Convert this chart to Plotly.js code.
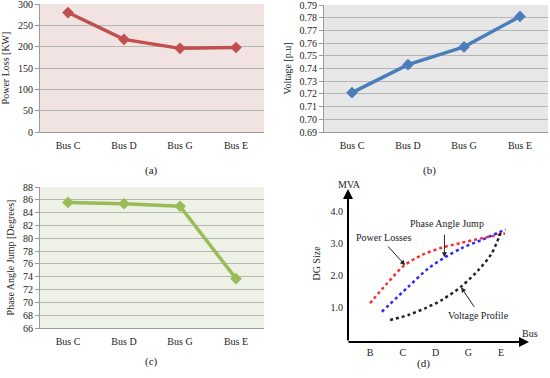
<!DOCTYPE html>
<html><head><meta charset="utf-8">
<script src="https://cdn.plot.ly/plotly-3.0.1.min.js"></script>
<style>html,body{margin:0;padding:0;background:#fff}#chart{width:550px;height:378px}</style>
</head><body><div id="chart"></div>
<script>
// ---- data ----
const buses = ['Bus C', 'Bus D', 'Bus G', 'Bus E'];
const powerLoss = [280, 217, 196, 198];
const voltage = [0.721, 0.743, 0.757, 0.781];
const phaseAngle = [85.6, 85.4, 85.0, 73.7];

// panel (d) schematic
const dBusLabels = ['B', 'C', 'D', 'G', 'E'];
const dBusPos = [1, 2, 3, 4, 5];
const dSizeTicks = [1, 2, 3, 4];
const dSizeLabels = ['1.0', '2.0', '3.0', '4.0'];
const lossX = [1.0, 1.5, 2.02, 2.58, 3.19, 3.80, 4.41, 5.12];
const lossY = [1.12, 1.72, 2.29, 2.64, 2.87, 3.03, 3.17, 3.32];
const angleX = [1.36, 2.17, 2.78, 3.29, 3.80, 4.41, 5.14];
const angleY = [0.85, 1.64, 2.22, 2.57, 2.86, 3.12, 3.45];
const voltX = [1.61, 2.17, 2.68, 3.19, 3.80, 4.31, 4.71, 5.02];
const voltY = [0.59, 0.75, 0.96, 1.22, 1.66, 2.17, 2.69, 3.43];

const F = 'Liberation Serif, Times New Roman, serif';
const W = 550, H = 378;
const px = v => v / W, py = v => 1 - v / H;

function lineTrace(y, color, xa, ya) {
  return {x: buses, y: y, type: 'scatter', mode: 'lines+markers', xaxis: xa, yaxis: ya,
    line: {color: color, width: 3.5}, marker: {symbol: 'diamond', size: 9, color: color},
    showlegend: false, hoverinfo: 'skip'};
}
function dotTrace(x, y, color) {
  return {x: x, y: y, type: 'scatter', mode: 'lines', xaxis: 'x4', yaxis: 'y4',
    line: {color: color, width: 2.5, dash: 'dot', shape: 'spline', smoothing: 0.8}, showlegend: false, hoverinfo: 'skip'};
}

const data = [
  lineTrace(powerLoss, '#c0504d', 'x', 'y'),
  lineTrace(voltage, '#4a7ebb', 'x2', 'y2'),
  lineTrace(phaseAngle, '#9bbb59', 'x3', 'y3'),
  dotTrace(lossX, lossY, '#ff2a2a'),
  dotTrace(angleX, angleY, '#2a2aff'),
  dotTrace(voltX, voltY, '#222222'),
];

const tickFont = {family: F, size: 10, color: '#222'};
function catX(dom, anchor) {
  return {domain: dom, anchor: anchor, type: 'category', range: [-0.5, 3.5], showgrid: false,
    showline: true, linecolor: '#9a9a9a', linewidth: 1, ticks: '', tickfont: tickFont,
    ticklabelstandoff: 4, zeroline: false, fixedrange: true};
}
function valY(dom, anchor, range, dtick, fmt, title) {
  return {domain: dom, anchor: anchor, range: range, dtick: dtick, tickformat: fmt,
    showgrid: true, gridcolor: '#b5b5b5', gridwidth: 1, showline: true, linecolor: '#9a9a9a',
    ticks: 'outside', ticklen: 4, tickcolor: '#9a9a9a', tickfont: tickFont, zeroline: false,
    ticklabeloverflow: 'allow',
    title: {text: title, font: {family: F, size: 10, color: '#222'}, standoff: 6}, fixedrange: true};
}

const layout = {
  width: W, height: H, margin: {l: 0, r: 0, t: 0, b: 0},
  paper_bgcolor: '#fff', plot_bgcolor: 'rgba(0,0,0,0)', showlegend: false,
  font: {family: F},
  xaxis: catX([px(40), px(264)], 'y'),
  yaxis: valY([py(132), py(4)], 'x', [0, 300], 50, 'd', 'Power Loss [KW]'),
  xaxis2: catX([px(324), px(548)], 'y2'),
  yaxis2: valY([py(132), py(5)], 'x2', [0.69, 0.79], 0.01, '.2f', 'Voltage [p.u]'),
  xaxis3: catX([px(40), px(264)], 'y3'),
  yaxis3: valY([py(328), py(187)], 'x3', [66, 88], 2, 'd', 'Phase Angle Jump [Degrees]'),
  xaxis4: {domain: [px(348), px(528)], anchor: 'y4', range: [0.328, 5.82], showgrid: false,
    showline: false, zeroline: false, ticks: '', tickvals: dBusPos, ticktext: dBusLabels,
    tickfont: tickFont, ticklabelstandoff: 3, fixedrange: true},
  yaxis4: {domain: [py(342), py(185)], anchor: 'x4', range: [-0.104, 4.85], showgrid: false,
    showline: false, zeroline: false, ticks: '', tickvals: dSizeTicks, ticktext: dSizeLabels,
    tickfont: tickFont, ticklabelstandoff: 4, fixedrange: true,
    title: {text: 'DG Size', font: {family: F, size: 10, color: '#222'}, standoff: 8}},
  shapes: [
    {type: 'rect', xref: 'x domain', yref: 'y domain', x0: 0, x1: 1, y0: 0, y1: 1, fillcolor: '#f2e3e3', line: {width: 0}, layer: 'below'},
    {type: 'rect', xref: 'x2 domain', yref: 'y2 domain', x0: 0, x1: 1, y0: 0, y1: 1, fillcolor: '#e7e7e7', line: {width: 0}, layer: 'below'},
    {type: 'rect', xref: 'x3 domain', yref: 'y3 domain', x0: 0, x1: 1, y0: 0, y1: 1, fillcolor: '#eef1e5', line: {width: 0}, layer: 'below'},
  ],
  annotations: [
    {text: '(a)', xref: 'paper', yref: 'paper', x: px(143), y: py(171), showarrow: false, font: {family: F, size: 11, color: '#222'}},
    {text: '(b)', xref: 'paper', yref: 'paper', x: px(438), y: py(171), showarrow: false, font: {family: F, size: 11, color: '#222'}},
    {text: '(c)', xref: 'paper', yref: 'paper', x: px(143), y: py(370), showarrow: false, font: {family: F, size: 11, color: '#222'}},
    {text: '(d)', xref: 'paper', yref: 'paper', x: px(432), y: py(372), showarrow: false, font: {family: F, size: 11, color: '#222'}},
    // axis arrows of (d)
    {text: '', xref: 'paper', yref: 'paper', x: px(348), y: py(189), ax: 0, ay: 153, showarrow: true, arrowhead: 2, arrowsize: 1, arrowwidth: 2, arrowcolor: '#000'},
    {text: '', xref: 'paper', yref: 'paper', x: px(529), y: py(342), ax: -182, ay: 0, showarrow: true, arrowhead: 2, arrowsize: 1, arrowwidth: 2, arrowcolor: '#000'},
    {text: 'MVA', xref: 'paper', yref: 'paper', x: px(349), y: py(184), showarrow: false, font: {family: F, size: 10, color: '#222'}},
    {text: 'Bus', xref: 'paper', yref: 'paper', x: px(540), y: py(341), showarrow: false, font: {family: F, size: 10, color: '#222'}},
    // curve labels
    {text: 'Power Losses', xref: 'x4', yref: 'y4', x: 1.40, y: 3.2, showarrow: false, font: {family: F, size: 10, color: '#222'}},
    {text: '', xref: 'x4', yref: 'y4', axref: 'x4', ayref: 'y4', x: 2.07, y: 2.32, ax: 1.51, ay: 2.96, showarrow: true, arrowhead: 2, arrowsize: 1, arrowwidth: 1, arrowcolor: '#222'},
    {text: 'Phase Angle Jump', xref: 'x4', yref: 'y4', x: 3.35, y: 3.64, showarrow: false, font: {family: F, size: 10, color: '#222'}},
    {text: '', xref: 'x4', yref: 'y4', axref: 'x4', ayref: 'y4', x: 3.27, y: 2.57, ax: 3.27, ay: 3.33, showarrow: true, arrowhead: 2, arrowsize: 1, arrowwidth: 1, arrowcolor: '#222'},
    {text: 'Voltage Profile', xref: 'x4', yref: 'y4', x: 4.31, y: 0.73, showarrow: false, font: {family: F, size: 10, color: '#222'}},
    {text: '', xref: 'x4', yref: 'y4', axref: 'x4', ayref: 'y4', x: 3.78, y: 1.62, ax: 4.21, ay: 0.96, showarrow: true, arrowhead: 2, arrowsize: 1, arrowwidth: 1, arrowcolor: '#222'},
  ]
};

Plotly.newPlot('chart', data, layout, {displayModeBar: false, staticPlot: true});
</script></body></html>
